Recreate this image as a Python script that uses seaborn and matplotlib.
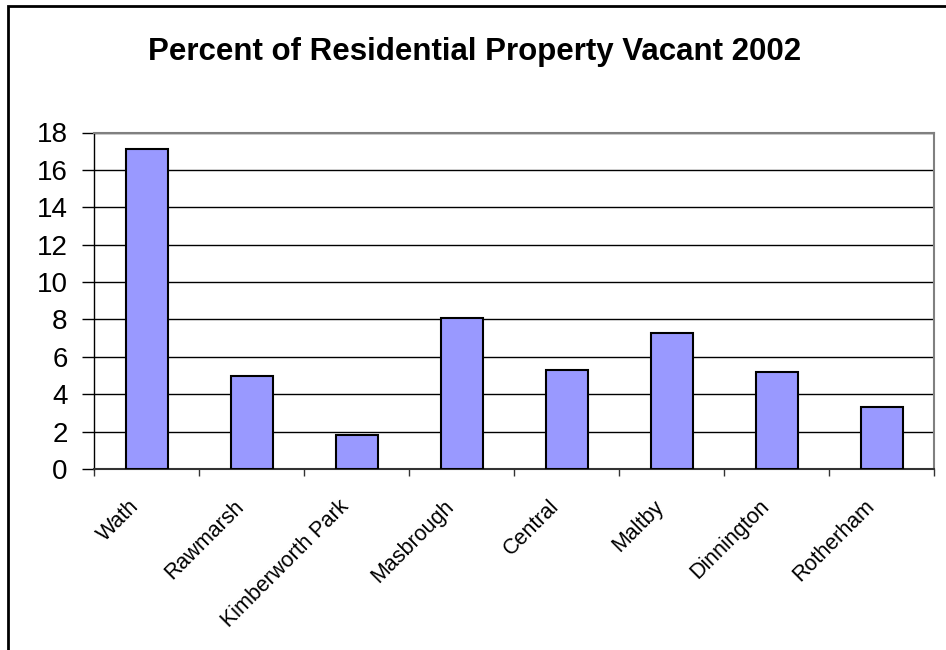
import matplotlib
matplotlib.use("Agg")
import matplotlib.pyplot as plt
from matplotlib.patches import Rectangle
import seaborn as sns
import pandas as pd

areas = ["Wath", "Rawmarsh", "Kimberworth Park", "Masbrough",
         "Central", "Maltby", "Dinnington", "Rotherham"]
vacant_pct = [17.1, 5.0, 1.8, 8.1, 5.3, 7.3, 5.2, 3.3]
y_ticks = [0, 2, 4, 6, 8, 10, 12, 14, 16, 18]
title = "Percent of Residential Property Vacant 2002"

sns.set_theme(style="white")
plt.rcParams["font.family"] = ["Liberation Sans", "DejaVu Sans"]

W, H = 946, 650
fig = plt.figure(figsize=(W / 100, H / 100), dpi=100)
fig.patch.set_facecolor("white")

# plot area in pixel terms
left, right, top, bottom = 94, 934, 132.5, 469
ax = fig.add_axes([left / W, 1 - bottom / H, (right - left) / W, (bottom - top) / H])

df = pd.DataFrame({"area": areas, "pct": vacant_pct})
sns.barplot(data=df, x="area", y="pct", color="#9999FF", saturation=1,
            edgecolor="black", linewidth=1.5, width=0.4, ax=ax, zorder=3)

ax.set_ylim(0, 18)
ax.set_xlim(-0.5, len(areas) - 0.5)
ax.set_yticks(y_ticks)
ax.set_yticklabels([str(t) for t in y_ticks], fontsize=20, color="black")
ax.yaxis.grid(True, color="black", linewidth=1, zorder=0)
ax.set_axisbelow(True)
ax.set_xlabel("")
ax.set_ylabel("")

# ticks between categories
ax.set_xticks([i + 0.5 for i in range(-1, len(areas))], minor=False)
ax.set_xticklabels([])
ax.tick_params(axis="x", which="major", direction="out", length=5, width=1,
               color="#333333", bottom=True)
ax.tick_params(axis="y", direction="out", length=9, width=1, color="black",
               left=True, pad=10)

for i, name in enumerate(areas):
    ax.text(i - 0.17, -1.45, name, rotation=45, ha="right", va="top",
            rotation_mode="anchor", fontsize=15.5, color="black", zorder=5)

for side in ["top", "right"]:
    ax.spines[side].set_color("#808080")
    ax.spines[side].set_linewidth(1.5)
ax.spines["left"].set_color("black")
ax.spines["left"].set_linewidth(1)
ax.spines["bottom"].set_color("#333333")
ax.spines["bottom"].set_linewidth(1.5)

fig.text(475 / W, 1 - 52 / H, title, ha="center", va="center",
         fontsize=22.5, fontweight="bold", color="black")

# chart frame
frame = Rectangle((8 / W, -0.2), 1.2, 1.2 - 6 / H, transform=fig.transFigure,
                  fill=False, edgecolor="black", linewidth=2, clip_on=False)
fig.patches.append(frame)

fig.savefig("out.png", dpi=100)
